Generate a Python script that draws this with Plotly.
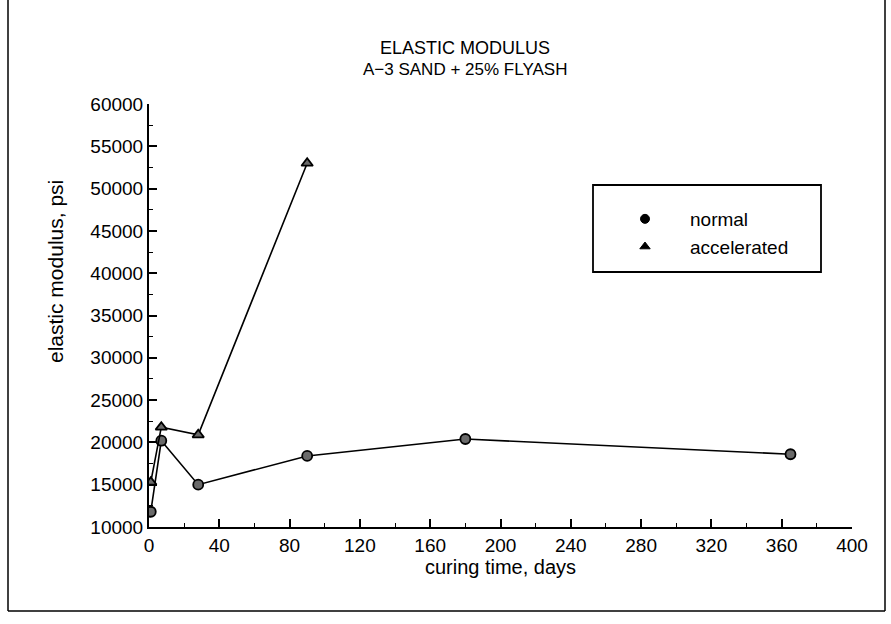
import plotly.graph_objects as go

# ---- data ----
normal_days = [1, 7, 28, 90, 180, 365]
normal_psi = [11800, 20200, 15000, 18400, 20400, 18600]
accel_days = [1, 7, 28, 90]
accel_psi = [15300, 21800, 20900, 53000]

x_ticks = [0, 40, 80, 120, 160, 200, 240, 280, 320, 360, 400]
y_ticks = [10000, 15000, 20000, 25000, 30000, 35000, 40000, 45000, 50000, 55000, 60000]

series_names = ["normal", "accelerated"]
title_main = "ELASTIC MODULUS"
title_sub = "A\u22123 SAND + 25% FLYASH"
x_title = "curing time, days"
y_title = "elastic modulus, psi"

W, H = 891, 624
L, R, T, B = 149, 39, 104, 97  # plot area margins (px)
pw, ph = W - L - R, H - T - B

def px_x(p):
    return (p - L) / pw

def px_y(p):
    return 1 - (p - T) / ph

FONT = "Liberation Sans"

fig = go.Figure()
fig.add_trace(go.Scatter(
    x=normal_days, y=normal_psi, name=series_names[0], mode="lines+markers",
    line=dict(color="black", width=1.6), showlegend=False,
    marker=dict(symbol="circle", size=10, color="#6a6a6a", line=dict(color="black", width=1.8)),
))
fig.add_trace(go.Scatter(
    x=accel_days, y=accel_psi, name=series_names[1], mode="lines+markers",
    line=dict(color="black", width=1.6), showlegend=False,
    marker=dict(symbol="triangle-up", size=10, color="#6a6a6a", line=dict(color="black", width=1.8)),
))
# legend entries (markers only, as in the reference key)
for nm, sym in zip(series_names, ["circle", "triangle-up"]):
    fig.add_trace(go.Scatter(
        x=[None], y=[None], name=nm, mode="markers",
        marker=dict(symbol=sym, size=9, color="black", line=dict(color="black", width=1)),
    ))

fig.update_layout(
    width=W, height=H,
    margin=dict(l=L, r=R, t=T, b=B, autoexpand=False),
    paper_bgcolor="white", plot_bgcolor="white",
    font=dict(family=FONT, color="black", size=18),
    showlegend=True,
    legend=dict(
        x=px_x(600), y=px_y(200), xanchor="left", yanchor="top",
        bgcolor="rgba(0,0,0,0)", borderwidth=0,
        font=dict(size=19, family=FONT), itemwidth=80,
        tracegroupgap=0,
    ),
)

fig.update_xaxes(
    range=[0, 400], tickvals=x_ticks, ticktext=[str(v) for v in x_ticks],
    showline=True, linecolor="black", linewidth=2, mirror=False,
    ticks="inside", ticklen=8, tickwidth=1.5, tickcolor="black",
    minor=dict(ticks="inside", ticklen=4, tickwidth=1.2, tickcolor="black", dtick=20, tick0=0),
    showgrid=False, zeroline=False,
    tickfont=dict(size=19, family=FONT),
    title=dict(text=x_title, font=dict(size=20, family=FONT), standoff=4),
)
fig.update_yaxes(
    range=[10000, 60000], tickvals=y_ticks, ticktext=[str(v) for v in y_ticks],
    showline=True, linecolor="black", linewidth=2, mirror=False,
    ticks="inside", ticklen=8, tickwidth=1.5, tickcolor="black",
    minor=dict(ticks="inside", ticklen=4, tickwidth=1.2, tickcolor="black", dtick=2500, tick0=10000),
    showgrid=False, zeroline=False,
    tickfont=dict(size=19, family=FONT),
)

# y-axis title (placed like the reference, above the axis centre)
fig.add_annotation(text=y_title, xref="paper", yref="paper",
                   x=px_x(55), y=px_y(272), showarrow=False, textangle=-90,
                   font=dict(size=21, family=FONT), xanchor="center", yanchor="middle")

# titles
fig.add_annotation(text=title_main, xref="paper", yref="paper",
                   x=px_x(465), y=px_y(48), showarrow=False,
                   font=dict(size=18, family=FONT), xanchor="center", yanchor="middle")
fig.add_annotation(text=title_sub, xref="paper", yref="paper",
                   x=px_x(465), y=px_y(69), showarrow=False,
                   font=dict(size=17, family=FONT), xanchor="center", yanchor="middle")

# legend box
fig.add_shape(type="rect", xref="paper", yref="paper",
              x0=px_x(593), x1=px_x(821), y0=px_y(272), y1=px_y(185),
              line=dict(color="black", width=1.8))

# outer frame (left, right, bottom)
for (x0, y0, x1, y1) in [(8, 0, 8, 611), (885, 0, 885, 611), (8, 611, 885, 611)]:
    fig.add_shape(type="line", xref="paper", yref="paper",
                  x0=px_x(x0), x1=px_x(x1), y0=px_y(y0), y1=px_y(y1),
                  line=dict(color="black", width=1.5))

fig.write_html("out.html")
